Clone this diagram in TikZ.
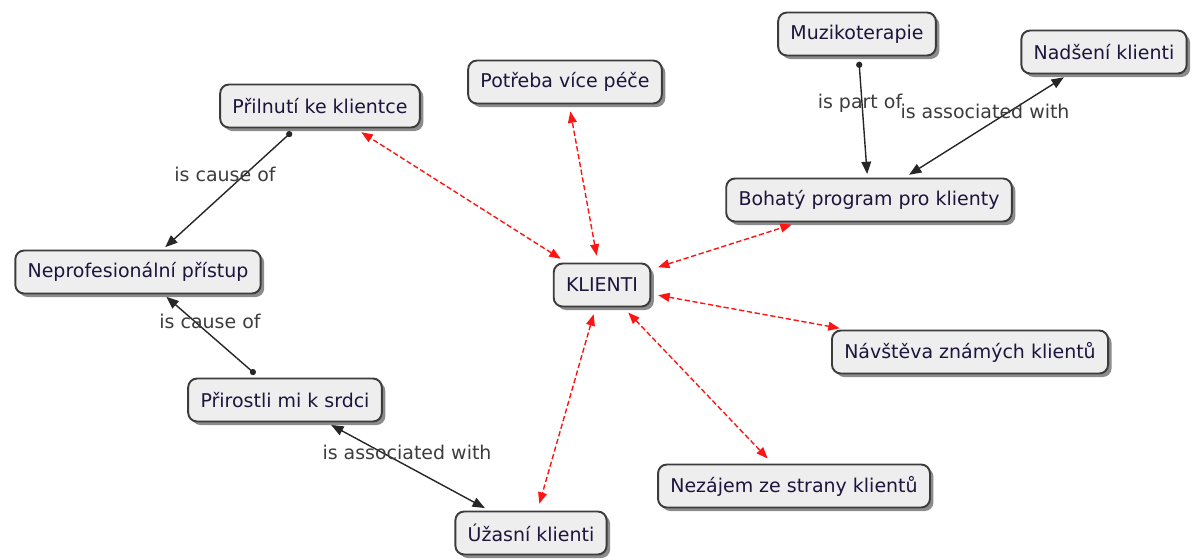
\documentclass[tikz,border=0pt]{standalone}
\usepackage{fontspec}
\setmainfont{DejaVu Sans}
\usetikzlibrary{positioning,shapes,arrows.meta,shadows,calc}
\definecolor{boxline}{RGB}{60,60,60}
\definecolor{boxfill}{RGB}{238,238,238}
\definecolor{boxtext}{RGB}{30,20,60}
\definecolor{linkred}{RGB}{255,20,20}
\definecolor{labelgray}{RGB}{60,60,60}

\begin{document}
\begin{tikzpicture}[x=0.02cm,y=-0.02cm,
    concept/.style={rectangle,rounded corners=5pt,draw=boxline,line width=1.1pt,fill=boxfill,
      text=boxtext,minimum height=0.86cm,inner xsep=7pt,font=\fontsize{10.8}{12}\selectfont,
      drop shadow={shadow xshift=2pt,shadow yshift=-2pt,opacity=0.45,fill=black}},
    linktext/.style={font=\fontsize{10.8}{12}\selectfont,text=labelgray,inner sep=0pt},
    link/.style={draw=black!85,line width=0.8pt,shorten <=3pt,shorten >=2pt,
      {Circle[length=3.5pt]}-{Triangle[length=7pt,width=5.5pt]}},
    duallink/.style={draw=black!85,line width=0.8pt,shorten <=3pt,shorten >=3pt,
      {Triangle[length=7pt,width=5.5pt]}-{Triangle[length=7pt,width=5.5pt]}},
    redlink/.style={draw=linkred,line width=0.8pt,dash pattern=on 3pt off 1.5pt,
      shorten <=4pt,shorten >=4pt,
      {Triangle[length=6.5pt,width=5pt]}-{Triangle[length=6.5pt,width=5pt]}}]
    \useasboundingbox (0,0) rectangle (1195,559);

    \node[concept] (klienti) at (602,285) {KLIENTI};
    \node[concept] (muzik) at (857,34) {Muzikoterapie};
    \node[concept] (nadseni) at (1104,52) {Nadšení klienti};
    \node[concept] (potreba) at (565,82) {Potřeba více péče};
    \node[concept] (prilnuti) at (320,106) {Přilnutí ke klientce};
    \node[concept] (bohaty) at (869,200) {Bohatý program pro klienty};
    \node[concept] (neprof) at (138,272) {Neprofesionální přístup};
    \node[concept] (navsteva) at (970,352) {Návštěva známých klientů};
    \node[concept] (prirostli) at (285,400) {Přirostli mi k srdci};
    \node[concept] (nezajem) at (794,486) {Nezájem ze strany klientů};
    \node[concept] (uzasni) at (531,533) {Úžasní klienti};

    % red links round KLIENTI
    \draw[redlink] (klienti) -- (prilnuti);
    \draw[redlink] (klienti) -- (potreba);
    \draw[redlink] (klienti) -- (bohaty);
    \draw[redlink] (klienti) -- (navsteva);
    \draw[redlink] (klienti) -- (nezajem);
    \draw[redlink] (klienti) -- (uzasni);

    % named links
    \draw[link] (muzik) -- (bohaty);
    \draw[duallink] (nadseni) -- (bohaty);
    \draw[link] (prilnuti) -- (neprof);
    \draw[link] (prirostli) -- (neprof);
    \draw[duallink] (prirostli) -- (uzasni);

    \node[linktext] (partof) at (860,103) {is part of};
    \node[linktext] (assocup) at (985,111) {is associated with};
    \node[linktext] (causeup) at (225,174) {is cause of};
    \node[linktext] (causelow) at (210,321) {is cause of};
    \node[linktext] (assoclow) at (407,452) {is associated with};
  \end{tikzpicture}
\end{document}
